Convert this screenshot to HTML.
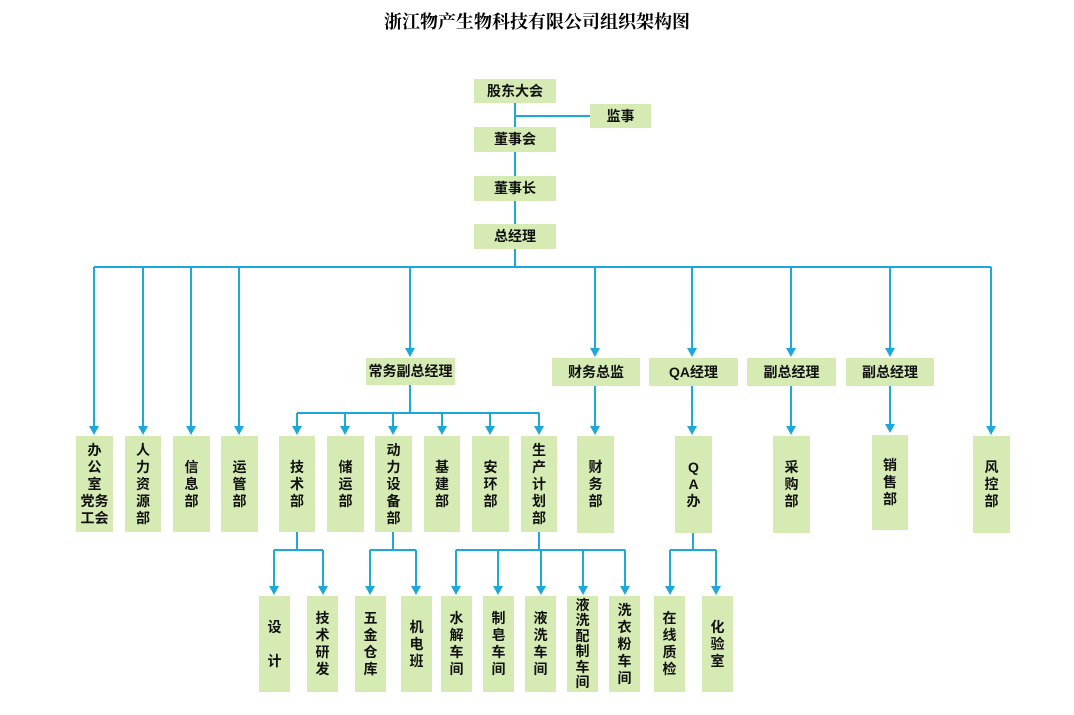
<!DOCTYPE html>
<html><head><meta charset="utf-8"><style>
body{margin:0;width:1074px;height:715px;background:#fff;position:relative;overflow:hidden;font-family:"Liberation Sans","Noto Sans CJK SC",sans-serif}
.b{position:absolute;background:#d6ebb4;display:flex;align-items:center;justify-content:center;font-weight:bold;font-size:14px;color:#111;text-align:center;line-height:17px}
.v{flex-direction:column}
.t{position:absolute;left:0;width:1074px;top:8px;text-align:center;font-family:"Liberation Serif","Noto Serif CJK SC",serif;font-weight:bold;font-size:18px}
svg{position:absolute;left:0;top:0}
</style></head><body>
<div class="t">浙江物产生物科技有限公司组织架构图</div>
<svg width="1074" height="715">
<g stroke="#1da8dc" stroke-width="2" fill="none">
<path d="M515,103V224M515,116H590M515,249V267M94,267H991"/>
<path d="M94,267V430M143,267V430M191,267V430M239,267V430M410,267V352M595,267V352M692,267V352M791,267V352M890,267V352M991,267V430"/>
<path d="M410,385V413M297,413H539"/>
<path d="M297,413V430M345,413V430M393,413V430M442,413V430M490,413V430M539,413V430"/>
<path d="M595,386V430M692,386V430M791,386V430M890,386V428"/>
<path d="M297,532V550M274,550H323M393,532V550M370,550H416M539,532V550M456,550H625M693,532V550M670,550H716"/>
<path d="M274,550V590M323,550V590M370,550V590M416,550V590M456,550V590M498,550V590M541,550V590M583,550V590M625,550V590M670,550V590M716,550V590"/>
</g>
<g fill="#1da8dc">
<path d="M89,426h10l-5,9zM138,426h10l-5,9zM186,426h10l-5,9zM234,426h10l-5,9zM986,426h10l-5,9z"/>
<path d="M405,348h10l-5,9zM590,348h10l-5,9zM687,348h10l-5,9zM786,348h10l-5,9zM885,348h10l-5,9z"/>
<path d="M292,426h10l-5,9zM340,426h10l-5,9zM388,426h10l-5,9zM437,426h10l-5,9zM485,426h10l-5,9zM534,426h10l-5,9z"/>
<path d="M590,426h10l-5,9zM687,426h10l-5,9zM786,426h10l-5,9zM885,424h10l-5,9z"/>
<path d="M269,586h10l-5,9zM318,586h10l-5,9zM365,586h10l-5,9zM411,586h10l-5,9zM451,586h10l-5,9zM493,586h10l-5,9zM536,586h10l-5,9zM578,586h10l-5,9zM620,586h10l-5,9zM665,586h10l-5,9zM711,586h10l-5,9z"/>
</g></svg>
<div class="b" style="left:474px;top:79px;width:82px;height:24px">股东大会</div>
<div class="b" style="left:590px;top:104px;width:61px;height:24px">监事</div>
<div class="b" style="left:474px;top:127px;width:82px;height:25px">董事会</div>
<div class="b" style="left:474px;top:176px;width:82px;height:25px">董事长</div>
<div class="b" style="left:474px;top:224px;width:82px;height:25px">总经理</div>
<div class="b" style="left:366px;top:358px;width:89px;height:27px">常务副总经理</div>
<div class="b" style="left:552px;top:358px;width:88px;height:28px">财务总监</div>
<div class="b" style="left:649px;top:358px;width:89px;height:28px">QA经理</div>
<div class="b" style="left:747px;top:358px;width:89px;height:28px">副总经理</div>
<div class="b" style="left:846px;top:358px;width:88px;height:28px">副总经理</div>
<div class="b v" style="left:76px;top:436px;width:37px;height:96px">办<br>公<br>室<br>党务<br>工会</div>
<div class="b v" style="left:125px;top:436px;width:36px;height:96px">人<br>力<br>资<br>源<br>部</div>
<div class="b v" style="left:173px;top:436px;width:37px;height:96px">信<br>息<br>部</div>
<div class="b v" style="left:221px;top:436px;width:37px;height:96px">运<br>管<br>部</div>
<div class="b v" style="left:279px;top:436px;width:36px;height:96px">技<br>术<br>部</div>
<div class="b v" style="left:327px;top:436px;width:37px;height:96px">储<br>运<br>部</div>
<div class="b v" style="left:375px;top:436px;width:37px;height:96px">动<br>力<br>设<br>备<br>部</div>
<div class="b v" style="left:424px;top:436px;width:36px;height:96px">基<br>建<br>部</div>
<div class="b v" style="left:472px;top:436px;width:37px;height:96px">安<br>环<br>部</div>
<div class="b v" style="left:521px;top:436px;width:36px;height:96px">生<br>产<br>计<br>划<br>部</div>
<div class="b v" style="left:577px;top:436px;width:37px;height:97px">财<br>务<br>部</div>
<div class="b v" style="left:675px;top:436px;width:37px;height:97px">Q<br>A<br>办</div>
<div class="b v" style="left:773px;top:436px;width:37px;height:97px">采<br>购<br>部</div>
<div class="b v" style="left:872px;top:435px;width:36px;height:95px">销<br>售<br>部</div>
<div class="b v" style="left:973px;top:436px;width:37px;height:97px">风<br>控<br>部</div>
<div class="b v" style="left:259px;top:596px;width:31px;height:96px">设<br><br>计</div>
<div class="b v" style="left:307px;top:596px;width:31px;height:96px">技<br>术<br>研<br>发</div>
<div class="b v" style="left:355px;top:596px;width:31px;height:96px">五<br>金<br>仓<br>库</div>
<div class="b v" style="left:401px;top:596px;width:31px;height:96px">机<br>电<br>班</div>
<div class="b v" style="left:441px;top:596px;width:31px;height:96px">水<br>解<br>车<br>间</div>
<div class="b v" style="left:483px;top:596px;width:31px;height:96px">制<br>皂<br>车<br>间</div>
<div class="b v" style="left:525px;top:596px;width:31px;height:96px">液<br>洗<br>车<br>间</div>
<div class="b v" style="left:567px;top:596px;width:31px;height:96px;line-height:15.5px">液<br>洗<br>配<br>制<br>车<br>间</div>
<div class="b v" style="left:609px;top:596px;width:31px;height:96px">洗<br>衣<br>粉<br>车<br>间</div>
<div class="b v" style="left:654px;top:596px;width:31px;height:96px">在<br>线<br>质<br>检</div>
<div class="b v" style="left:702px;top:596px;width:31px;height:96px">化<br>验<br>室</div>
</body></html>
